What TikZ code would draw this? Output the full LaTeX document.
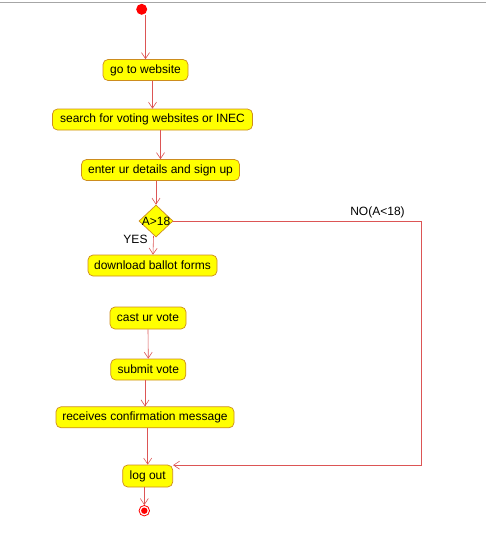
\documentclass[tikz,border=0pt]{standalone}
\usepackage{fontspec}
\setmainfont{Liberation Sans}
\usetikzlibrary{arrows.meta,shapes.geometric,calc}
\definecolor{actfill}{RGB}{255,255,0}
\definecolor{actborder}{RGB}{205,140,30}
\definecolor{flow}{RGB}{220,85,85}
\definecolor{dot}{RGB}{255,0,0}
\begin{document}
\begin{tikzpicture}[x=1pt,y=-1pt,
  activity/.style={draw=actborder,fill=actfill,rounded corners=5pt,line width=0.7pt,
    minimum height=21pt,inner xsep=6pt,inner ysep=0pt,font=\fontsize{12}{12}\selectfont},
  decision/.style={diamond,draw=actborder,fill=actfill,line width=0.7pt,
    minimum width=34pt,minimum height=32pt,inner sep=0pt},
  flowline/.style={draw=flow,line width=0.6pt,-{Straight Barb[length=6pt,width=8pt]}},
  lbl/.style={font=\fontsize{12}{12}\selectfont,inner sep=0pt}]
\useasboundingbox (0,0) rectangle (486,539);
\fill[white] (0,0) rectangle (486,539);
% window edge at the top
\draw[gray!70,line width=1.2pt] (0,2.5) -- (486,2.5);

% initial and final states
\node[circle,fill=dot,minimum size=11pt,inner sep=0pt] (start) at (141.7,9.3) {};
\node[circle,draw=dot,line width=0.8pt,minimum size=10.5pt,inner sep=0pt] (end) at (144.3,510.7) {};
\fill[dot] (end.center) circle (3.2pt);

% activities
\node[activity,minimum width=85pt] (go) at (145.5,70) {go to website};
\node[activity,minimum width=200pt] (search) at (152.5,119.5) {search for voting websites or INEC};
\node[activity,minimum width=158pt] (enter) at (160.5,170) {enter ur details and sign up};
\node[decision] (dec) at (156,221) {};
\node[lbl] at (156,221) {A>18};
\node[activity,minimum width=129pt] (dl) at (152.5,265.5) {download ballot forms};
\node[activity,minimum width=76pt,minimum height=22pt] (cast) at (148,318) {cast ur vote};
\node[activity,minimum width=75pt] (submit) at (148.3,369.5) {submit vote};
\node[activity,minimum width=178pt] (rc) at (145,417.3) {receives confirmation message};
\node[activity,minimum width=50pt,minimum height=22pt] (lo) at (147.7,476) {log out};

% guard labels
\node[lbl] (yes) at (135.5,239.5) {YES};
\node[lbl] (no) at (377.5,212.5) {NO(A<18)};

% control flow
\draw[flowline] (start.south -| go.north) -- (go.north);
\draw[flowline] (go.south -| search.north) -- (search.north);
\draw[flowline] (search.south -| enter.north) -- (enter.north);
\draw[flowline] (enter.south -| dec.north) -- (dec.north);
\draw[flowline] ($(dec.south)+(-2.5,-1.5)$) -- ($(dl.north)+(0.5,0)$);
\draw[flowline] (cast.south) -- (submit.north);
\draw[flowline] (submit.south -| rc.north) -- (rc.north);
\draw[flowline] (rc.south -| lo.north) -- (lo.north);
\draw[flowline] (lo.south -| end.north) -- (end.north);
\coordinate (turn) at (421.7,221);
\draw[flowline] (dec.east) -- (turn) |- ($(lo.north east)+(0,0.5)$);
\end{tikzpicture}
\end{document}
